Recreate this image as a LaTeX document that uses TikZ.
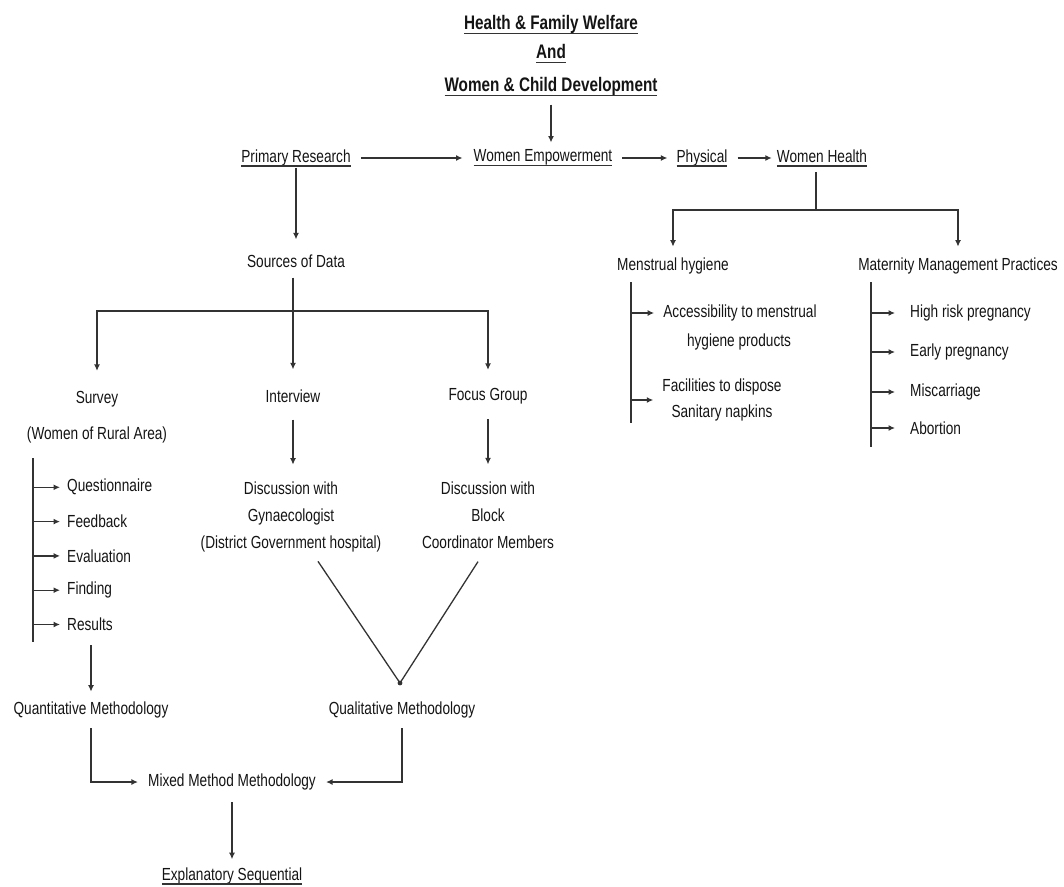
\documentclass[tikz,border=0pt]{standalone}
\usepackage{fontspec}
\setmainfont[FakeStretch=0.78]{Liberation Sans}
\usepackage{xcolor}
\usepackage{tikz}
\usetikzlibrary{arrows.meta}
\definecolor{linegray}{HTML}{333333}
\definecolor{textgray}{HTML}{141414}
\tikzstyle{arrow} = [line width=1.3pt,->,>={Latex[length=6.5pt,width=6pt]},draw=linegray]
\tikzstyle{conn} = [line width=1.3pt,draw=linegray]
\tikzstyle{txt} = [font=\fontsize{17.5}{27}\selectfont,text=textgray,inner sep=1pt,align=center]
\tikzstyle{heading} = [txt,font=\fontsize{19.6}{22}\selectfont\bfseries]
\newcommand{\undl}[1]{\setbox0=\hbox{#1}\rlap{#1}\textcolor{linegray}{\rule[-4.5pt]{\wd0}{1.3pt}}}

\begin{document}
\begin{tikzpicture}[x=1pt,y=-1pt]
			\useasboundingbox (0,0) rectangle (1064,886);
			
			% Heading:
			\node[heading] (t1) at (551,25) {\undl{Health \& Family Welfare}};
			\node[heading] (t2) at (551,54) {\undl{And}};
			\node[heading] (t3) at (551,87) {\undl{Women \& Child Development}};
			
			% Top row:
			\node[txt] (pr) at (296,158) {\undl{Primary Research}};
			\node[txt] (we) at (543,158) {\undl{Women Empowerment}};
			\node[txt] (ph) at (702,158) {\undl{Physical}};
			\node[txt] (wh) at (822,158) {\undl{Women Health}};
			\draw[arrow,shorten <=7pt,shorten >=6pt] (t3) -- (t3 |- we.north);
			\draw[arrow,shorten <=9pt,shorten >=10pt] (pr) -- (we);
			\draw[arrow,shorten <=9pt,shorten >=8pt] (we) -- (ph);
			\draw[arrow,shorten <=9pt,shorten >=4pt] (ph) -- (wh);
			
			% Women Health branch:
			\coordinate (whj) at (816,210);
			\node[txt] (mh) at (673,266) {Menstrual hygiene};
			\node[txt] (mmp) at (958,266) {Maternity Management Practices};
			\draw[conn,shorten <=4pt] (whj |- wh.south) -- (whj);
			\draw[arrow,shorten >=10pt] (whj) -| (mh.north);
			\draw[arrow,shorten >=10pt] (whj) -| (mmp.north);
			
			% Menstrual hygiene list:
			\coordinate (mbt) at (631,282);
			\coordinate (mbb) at (631,423);
			\draw[conn] (mbt) -- (mbb);
			\node[txt] (mi1) at (740,313) {Accessibility to menstrual};
			\node[txt] (mi1b) at (739,342) {hygiene products};
			\node[txt] (mi2) at (722,400) {Facilities to dispose\\[-1pt]Sanitary napkins};
			\draw[arrow,shorten >=8pt] (mbt |- mi1) -- (mi1);
			\draw[arrow,shorten >=8pt] (mbt |- mi2) -- (mi2);
			
			% Maternity list:
			\coordinate (pbt) at (871,282);
			\coordinate (pbb) at (871,447);
			\draw[conn] (pbt) -- (pbb);
			\foreach \name/\y/\txt in {mp1/313/High risk pregnancy,mp2/352/Early pregnancy,mp3/392/Miscarriage,mp4/428/Abortion}{%
				\node[txt,anchor=west] (\name) at (909,\y) {\txt};
				\draw[arrow,shorten >=14pt] (pbt |- \name.west) -- (\name.west);
			}
			
			% Sources of data:
			\node[txt] (sd) at (296,261) {Sources of Data};
			\coordinate (sdj) at (293,311);
			\draw[arrow,shorten >=14pt] (pr) -- (sd);
			\draw[conn,shorten <=9pt] (sdj |- sd.south) -- (sdj);
			\node[txt] (sv) at (97,417) {Survey\\[9pt](Women of Rural Area)};
			\node[txt] (iv) at (293,396) {Interview};
			\node[txt] (fg) at (488,396) {Focus Group};
			\draw[arrow,shorten >=19pt] (sdj) -| (sv.north);
			\draw[arrow,shorten >=19pt] (sdj) -- (sdj -| iv.north) -- (iv.north);
			\draw[arrow,shorten >=17pt] (sdj) -| (fg.north);
			
			% Interview and focus group:
			\node[txt] (dg) at (291,517) {Discussion with\\Gynaecologist\\(District Government hospital)};
			\node[txt] (fb) at (488,515) {Discussion with\\Block\\Coordinator Members};
			\draw[arrow,shorten <=16pt,shorten >=16pt] (iv) -- (iv |- dg.north);
			\draw[arrow,shorten <=14pt,shorten >=16pt] (fg) -- (fg |- fb.north);
			\node[txt] (ql) at (402,710) {Qualitative Methodology};
			\coordinate (qlj) at (400,683);
			\draw[conn] ([xshift=27pt,yshift=-8pt]dg.south) -- (qlj) -- ([xshift=-10pt,yshift=-12pt]fb.south);
			\fill[linegray] (qlj) circle (2.4pt);
			
			% Survey list:
			\coordinate (sbt) at (33,458);
			\coordinate (sbb) at (33,642);
			\draw[conn] (sbt) -- (sbb);
			\foreach \txt [count=\i] in {Questionnaire,Feedback,Evaluation,Finding,Results}{%
				\node[txt,anchor=west] (sq\i) at (66,453+34.3*\i) {\txt};
				\draw[arrow,shorten >=6pt] (sbt |- sq\i.west) -- (sq\i.west);
			}
			\node[txt] (qn) at (91,710) {Quantitative Methodology};
			\draw[arrow,shorten <=13pt,shorten >=9pt] (qn |- sq5.south) -- (qn);
			
			% Mixed method:
			\node[txt] (mm) at (232,782) {Mixed Method Methodology};
			\node[txt] (es) at (232,876) {\undl{Explanatory Sequential}};
			\draw[arrow,shorten <=9pt,shorten >=9pt] (qn.south) |- (mm.west);
			\draw[arrow,shorten <=9pt,shorten >=9pt] (ql.south) |- (mm.east);
			\draw[arrow,shorten <=11pt,shorten >=7pt] (mm) -- (es);
\end{tikzpicture}
\end{document}
